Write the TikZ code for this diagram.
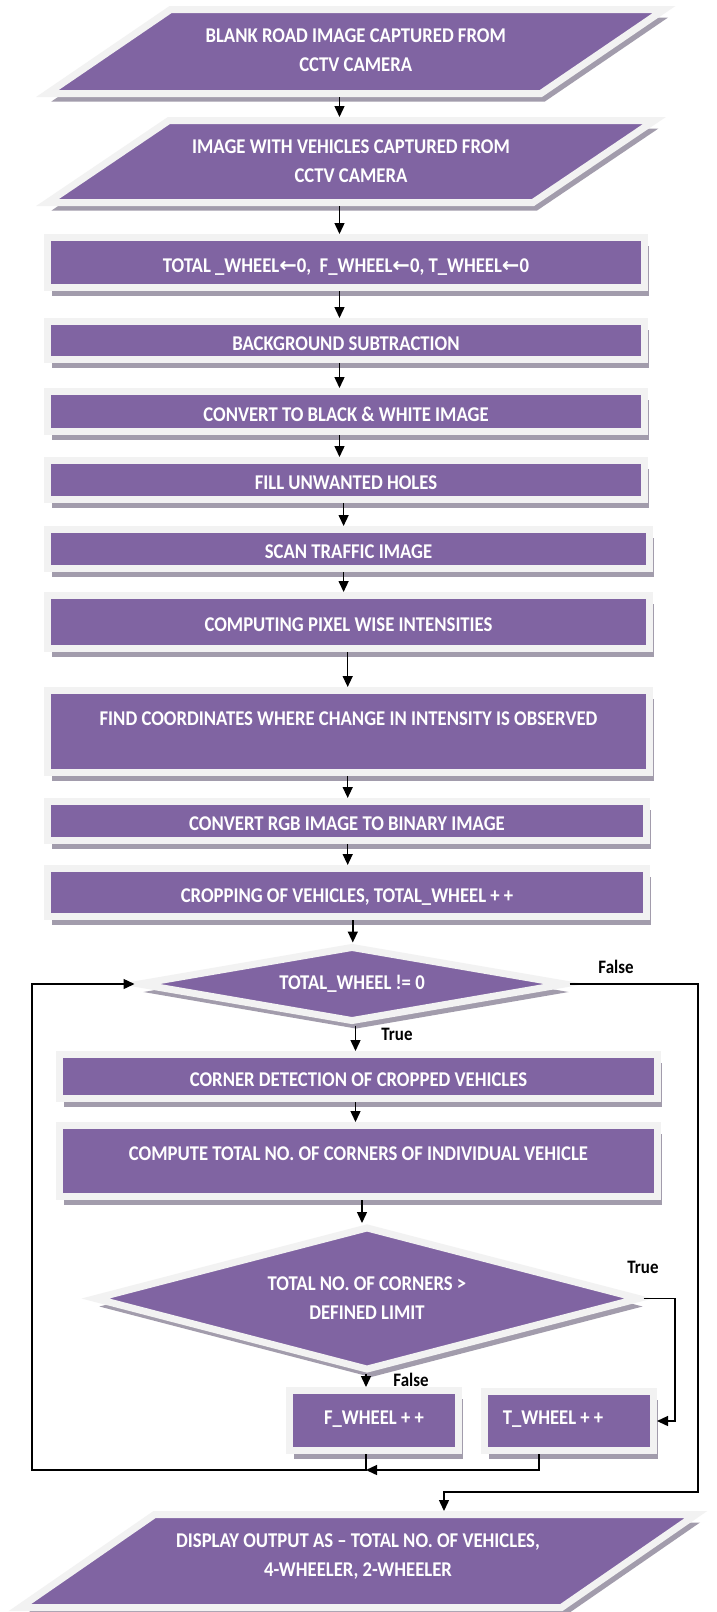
\documentclass[tikz,border=0pt]{standalone}
\usepackage{fontspec}
\setmainfont{Carlito}[FakeStretch=0.89]
\newfontfamily\symf{DejaVu Sans}
\usetikzlibrary{shapes.geometric,arrows.meta,shadows,calc}
\definecolor{acc}{RGB}{128,100,162}
\definecolor{bord}{RGB}{242,242,242}
\definecolor{shc}{RGB}{162,156,172}
\newcommand{\larr}{{\symf\bfseries ←}}
% parallelogram outline: centre x, centre y, half side, half height, slant
\newcommand{\parashape}[5]{%
  \path[parast] ({#1-#3-#5/2},{#2+#4}) -- ({#1+#3-#5/2},{#2+#4}) --
    ({#1+#3+#5/2},{#2-#4}) -- ({#1-#3+#5/2},{#2-#4}) -- cycle;}
\begin{document}
\begin{tikzpicture}[x=1pt,y=-1pt,
  sh/.style={drop shadow={shadow xshift=4pt, shadow yshift=-8pt, fill=shc, opacity=1}},
  mainfont/.style={font=\bfseries\fontsize{21}{29}\selectfont, text=white},
  base/.style={fill=acc, draw=bord, line width=7pt, inner sep=0pt, align=center, mainfont, sh},
  box/.style={base, rectangle, text height=19pt, text depth=0pt},
  smallbox/.style={base, rectangle, text height=13.3pt, text depth=6pt},
  parast/.style={fill=acc, draw=bord, line width=7pt, sh},
  ptxt/.style={mainfont, align=center, inner sep=0pt},
  dec/.style={base, diamond},
  arr/.style={-{Triangle[length=11pt,width=10pt]}, line width=1.4pt, black},
  lab/.style={font=\bfseries\fontsize{19}{22}\selectfont, text=black, inner sep=0pt}
]
\useasboundingbox (0,0) rectangle (716,1612);
\fill[white] (0,0) rectangle (716,1612);

% input parallelograms
\parashape{355.75}{51.5}{246.75}{42}{123.2}
\node[ptxt] (p1) at (355.75,50.5) {BLANK ROAD IMAGE CAPTURED FROM\\CCTV CAMERA};
\parashape{351}{161.5}{242.75}{41}{121.4}
\node[ptxt] (p2) at (351,161.5) {IMAGE WITH VEHICLES CAPTURED FROM\\CCTV CAMERA};
\coordinate (p1s) at (355.75,97);
\coordinate (p2n) at (351,117);
\coordinate (p2s) at (351,206);

% process boxes
\node[box, minimum width=597pt, minimum height=50pt] (b3) at (346,262.5)
  {TOTAL \_WHEEL\larr0,\ \ F\_WHEEL\larr0, T\_WHEEL\larr0};
\node[box, minimum width=597pt, minimum height=38pt] (b4) at (346,340.5) {BACKGROUND SUBTRACTION};
\node[box, minimum width=597pt, minimum height=40pt] (b5) at (346,411.5) {CONVERT TO BLACK \& WHITE IMAGE};
\node[box, minimum width=597pt, minimum height=39pt] (b6) at (346,480) {FILL UNWANTED HOLES};
\node[box, minimum width=602pt, minimum height=39pt] (b7) at (348.5,549) {SCAN TRAFFIC IMAGE};
\node[box, minimum width=602pt, minimum height=53pt] (b8) at (348.5,622) {COMPUTING PIXEL WISE INTENSITIES};
\node[box, minimum width=602pt, minimum height=82pt] (b9) at (348.5,731.5) {};
\node[ptxt] (b9t) at (348.5,719)
  {FIND COORDINATES WHERE CHANGE IN INTENSITY IS OBSERVED};
\node[box, minimum width=599pt, minimum height=39pt] (b10) at (347,821) {CONVERT RGB IMAGE TO BINARY IMAGE};
\node[box, minimum width=599pt, minimum height=48pt] (b11) at (347,892.5) {CROPPING OF VEHICLES, TOTAL\_WHEEL + +};

% decision 1
\node[dec, aspect=5.6, minimum width=428pt, minimum height=76pt] (d1) at (352,984) {TOTAL\_WHEEL != 0};

\node[box, minimum width=598pt, minimum height=44pt] (b12) at (358.5,1076.5) {CORNER DETECTION OF CROPPED VEHICLES};
\node[box, minimum width=598pt, minimum height=71pt] (b13) at (358.5,1161) {};
\node[ptxt] (b13t) at (358.5,1154)
  {COMPUTE TOTAL NO. OF CORNERS OF INDIVIDUAL VEHICLE};

% decision 2
\node[dec, aspect=3.8, minimum width=546pt, minimum height=144pt] (d2) at (367,1298.5)
  {TOTAL NO. OF CORNERS >\\DEFINED LIMIT};

\node[smallbox, minimum width=169pt, minimum height=60pt] (f) at (374,1420.5) {F\_WHEEL + +};
\node[smallbox, minimum width=169pt, minimum height=59pt] (t) at (569,1421) {T\_WHEEL + +\hspace*{32pt}};

% output parallelogram
\parashape{358}{1561}{270.7}{46.5}{134.6}
\node[ptxt] (p3) at (358,1556.5) {DISPLAY OUTPUT AS -- TOTAL NO. OF VEHICLES,\\4-WHEELER, 2-WHEELER};
\coordinate (p3n) at (358,1511);

% labels
\node[lab] (lt1) at (397,1034) {True};
\node[lab] (lf1) at (616,967) {False};
\node[lab] (lt2) at (643,1267) {True};
\node[lab] (lf2) at (411,1380) {False};

% helper coordinates
\coordinate (xa) at (339.5,0);
\coordinate (xb) at (343.6,0);
\coordinate (xc) at (347.7,0);
\coordinate (xd) at (352.8,0);
\coordinate (xe) at (355.5,0);
\coordinate (xg) at (362,0);
\coordinate (xf) at (366,0);
\coordinate (xt) at (539,0);
\coordinate (xl) at (32,0);
\coordinate (xr) at (698,0);
\coordinate (xq) at (675,0);
\coordinate (xo) at (444,0);
\coordinate (yb) at (0,1492);
\coordinate (jn) at (366,1470);

% straight connectors
\draw[arr] (p1s -| xa) -- (p2n -| xa);
\draw[arr] (p2s -| xa) -- (b3.north -| xa);
\draw[arr] (b3.south -| xa) -- (b4.north -| xa);
\draw[arr] (b4.south -| xa) -- (b5.north -| xa);
\draw[arr] (b5.south -| xa) -- (b6.north -| xa);
\draw[arr] (b6.south -| xb) -- (b7.north -| xb);
\draw[arr] (b7.south -| xb) -- (b8.north -| xb);
\draw[arr] (b8.south -| xc) -- (b9.north -| xc);
\draw[arr] (b9.south -| xc) -- (b10.north -| xc);
\draw[arr] (b10.south -| xc) -- (b11.north -| xc);
\draw[arr] (b11.south -| xd) -- (d1.north -| xd);
\draw[arr] (d1.south -| xe) -- (b12.north -| xe);
\draw[arr] (b12.south -| xe) -- (b13.north -| xe);
\draw[arr] (b13.south -| xg) -- (d2.north -| xg);
\draw[arr] (d2.south -| xf) -- (f.north -| xf);

% true branch of decision 2
\draw[arr] (d2.east) -- (xq |- d2.east) -- (xq |- t.east) -- (t.east);
% merge
\draw[arr] (t.south -| xt) -- (xt |- jn) -- (jn);
% loop back
\draw[arr] (f.south -| xf) -- (jn) -- (jn -| xl) -- (xl |- d1.west) -- (d1.west);
% false branch of decision 1
\draw[arr] (d1.east) -- (xr |- d1.east) -- (xr |- yb) -- (xo |- yb) -- (p3n -| xo);
\end{tikzpicture}
\end{document}
